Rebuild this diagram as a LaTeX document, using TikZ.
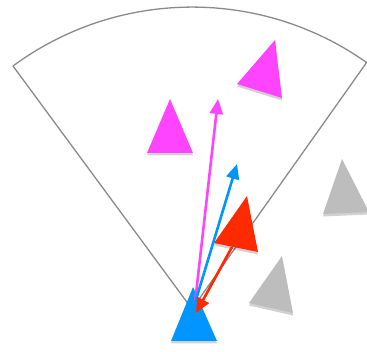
\documentclass[tikz,border=0pt]{standalone}
\usetikzlibrary{arrows.meta,shadows}
\definecolor{magentaT}{HTML}{FF44FF}
\definecolor{blueT}{HTML}{0095FF}
\definecolor{redT}{HTML}{FF2A00}
\definecolor{grayT}{HTML}{BDBDBD}
\definecolor{edgeT}{HTML}{8A8A8A}
\tikzset{
  tri/.style={draw=none, drop shadow={shadow xshift=0pt, shadow yshift=-2.5pt, opacity=0.18, fill=black}},
  arr/.style={line width=2.6pt, -{Triangle[length=15pt,width=13pt]}},
  sector/.style={draw=edgeT, line width=1.3pt, line join=miter}
}
\begin{document}
\begin{tikzpicture}[x=1pt,y=-1pt]
\useasboundingbox (0,0) rectangle (367,352);
% sector
\coordinate (apex) at (192,309);
\draw[sector] (13,66) -- (apex) -- (367,62);
\draw[sector] (13,66) arc[start angle=-126.4, end angle=-54.7, radius=302];
% triangles
\fill[tri, fill=magentaT] (170,99) -- (147,153) -- (193,153) -- cycle;
\fill[tri, fill=magentaT] (275,40) -- (237,84) -- (282,98) -- cycle;
\fill[tri, fill=grayT] (342,159) -- (323,214) -- (369,212) -- cycle;
\fill[tri, fill=grayT] (282,256) -- (249,303) -- (293,313) -- cycle;
\fill[tri, fill=redT] (247,196) -- (214,243) -- (258,252) -- cycle;
\fill[tri, fill=blueT] (193,287) -- (171,341) -- (217,341) -- cycle;
% arrows
\coordinate (src) at (195,303);
\coordinate (mtip) at (218,99);
\coordinate (btip) at (237,164);
\coordinate (rsrc) at (232,247);
\coordinate (rtip) at (196,313);
\draw[arr, magentaT] (src) -- (mtip);
\draw[arr, blueT] (src) -- (btip);
\draw[arr, redT] (rsrc) -- (rtip);
\end{tikzpicture}
\end{document}
